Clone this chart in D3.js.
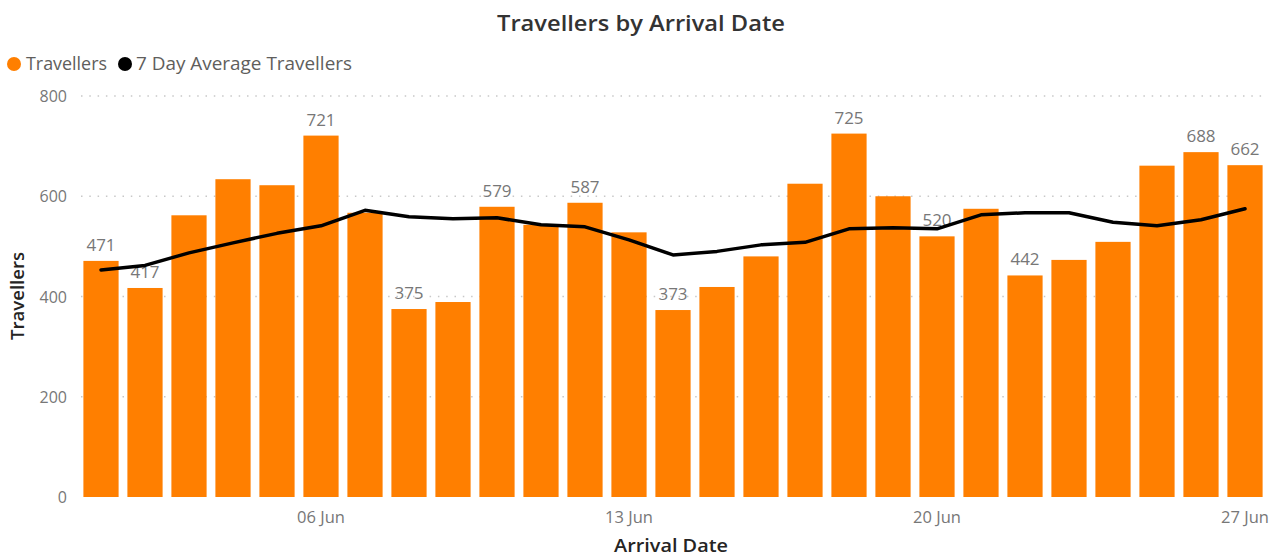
<!DOCTYPE html>
<html><head><meta charset="utf-8">
<script src="https://cdn.jsdelivr.net/npm/d3@7"></script>
<style>
html,body{margin:0;padding:0;background:#fff;}
svg{display:block;}
</style></head>
<body>
<svg id="chart" width="1288" height="556"></svg>
<script>
const dates = ["01 Jun","02 Jun","03 Jun","04 Jun","05 Jun","06 Jun","07 Jun","08 Jun","09 Jun","10 Jun","11 Jun","12 Jun","13 Jun","14 Jun","15 Jun","16 Jun","17 Jun","18 Jun","19 Jun","20 Jun","21 Jun","22 Jun","23 Jun","24 Jun","25 Jun","26 Jun","27 Jun"];
const travellers = [471,417,562,634,622,721,567,375,389,579,543,587,528,373,419,480,625,725,600,520,575,442,473,509,661,688,662];
const avg7 = [453,462,487,507,526,541,572,559,555,557,543,539,513,483,490,503,508,535,537,535,563,567,567,548,541,553,575];
const labelledDates = ["01 Jun","02 Jun","06 Jun","08 Jun","10 Jun","12 Jun","14 Jun","18 Jun","20 Jun","22 Jun","26 Jun","27 Jun"];
const xTickLabels = ["06 Jun","13 Jun","20 Jun","27 Jun"];
const yTicks = [0,200,400,600,800];

const svg = d3.select("#chart");
const orange = "#ff7f00";
const grey = "#777";
const font = "'Open Sans', 'Noto Sans', sans-serif";

const x = d3.scaleBand().domain(dates).range([79, 1267]).paddingInner(0.2).paddingOuter(0.1);
const y = d3.scaleLinear().domain([0, 800]).range([497, 96]);

// title
svg.append("text").attr("x", 641).attr("y", 31).attr("text-anchor", "middle")
  .attr("textLength", 288).attr("lengthAdjust", "spacingAndGlyphs")
  .style("font-family", font).style("font-weight", 600)
  .style("font-size", "21px").style("fill", "#333").text("Travellers by Arrival Date");

// legend
const leg = svg.append("g").style("font-family", font).style("font-size", "18px").style("fill", "#605e5c");
leg.append("circle").attr("cx", 14).attr("cy", 64).attr("r", 7).attr("fill", orange);
leg.append("text").attr("x", 26).attr("y", 70).attr("textLength", 81).attr("lengthAdjust", "spacingAndGlyphs").text("Travellers");
leg.append("circle").attr("cx", 125).attr("cy", 64).attr("r", 7).attr("fill", "#000");
leg.append("text").attr("x", 136).attr("y", 70).attr("textLength", 216).attr("lengthAdjust", "spacingAndGlyphs").text("7 Day Average Travellers");

// gridlines
svg.append("g").selectAll("line").data(yTicks.filter(d => d > 0)).join("line")
  .attr("x1", 81).attr("x2", 1267).attr("y1", d => y(d)).attr("y2", d => y(d))
  .attr("stroke", "#c8c8c8").attr("stroke-width", 1.5).attr("stroke-dasharray", "1.5,6.8");

// y axis
const yAxis = svg.append("g").attr("transform", "translate(67,0)")
  .call(d3.axisLeft(y).tickValues(yTicks).tickSize(0).tickPadding(0));
yAxis.select(".domain").remove();
yAxis.selectAll("text").style("font-family", font).style("font-size", "16px").style("fill", grey).attr("dy", "0.35em");

// x axis
const xAxis = svg.append("g").attr("transform", "translate(0,505)")
  .call(d3.axisBottom(x).tickValues(xTickLabels).tickSize(0).tickPadding(6));
xAxis.select(".domain").remove();
xAxis.selectAll("text").style("font-family", font).style("font-size", "16.5px").style("fill", grey);

// axis titles
svg.append("text").attr("transform", "translate(24,296) rotate(-90)").attr("text-anchor", "middle")
  .attr("textLength", 88).attr("lengthAdjust", "spacingAndGlyphs")
  .style("font-family", font).style("font-weight", 600).style("font-size", "18px").style("fill", "#252423").text("Travellers");
svg.append("text").attr("x", 671).attr("y", 552).attr("text-anchor", "middle")
  .attr("textLength", 114).attr("lengthAdjust", "spacingAndGlyphs")
  .style("font-family", font).style("font-weight", 600).style("font-size", "18px").style("fill", "#252423").text("Arrival Date");

// bars
svg.append("g").selectAll("rect").data(dates).join("rect")
  .attr("x", d => x(d)).attr("width", x.bandwidth())
  .attr("y", (d, i) => y(travellers[i])).attr("height", (d, i) => y(0) - y(travellers[i]))
  .attr("fill", orange);

// data labels
svg.append("g").selectAll("text").data(dates.map((d, i) => ({d, v: travellers[i]})).filter(o => labelledDates.includes(o.d)))
  .join("text")
  .attr("x", o => x(o.d) + x.bandwidth() / 2).attr("y", o => y(o.v) - 10)
  .attr("text-anchor", "middle")
  .style("font-family", font).style("font-size", "17px").style("fill", grey)
  .text(o => o.v);

// line
const line = d3.line().x((d, i) => x(dates[i]) + x.bandwidth() / 2).y(d => y(d));
svg.append("path").datum(avg7).attr("d", line).attr("fill", "none")
  .attr("stroke", "#000").attr("stroke-width", 3.5).attr("stroke-linejoin", "round").attr("stroke-linecap", "round");
</script>
</body></html>
